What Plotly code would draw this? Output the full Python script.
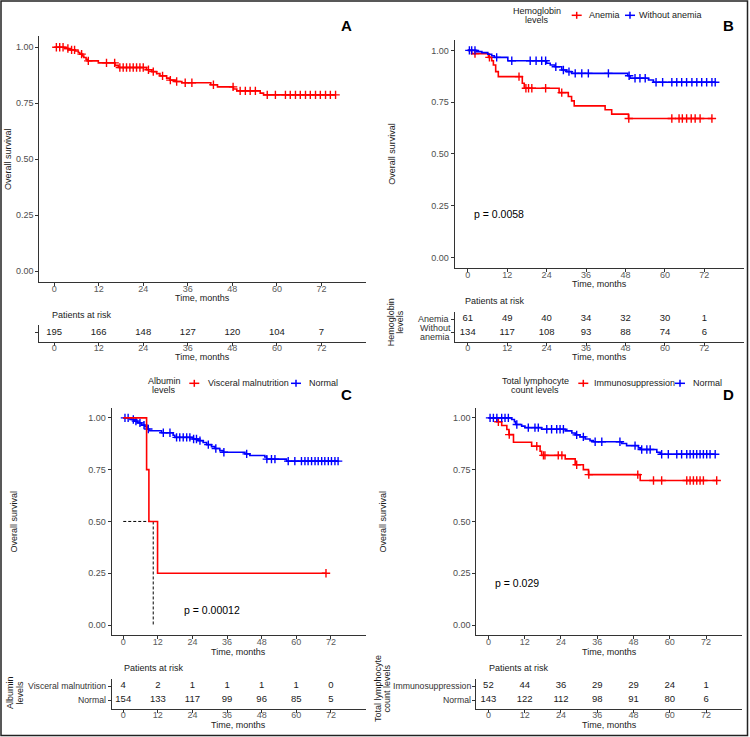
import plotly.graph_objects as go

W, H = 750, 737
FONT = "Liberation Sans, Arial, sans-serif"

# ---------------- data ----------------
time_ticks = [0, 12, 24, 36, 48, 60, 72]
surv_ticks = [0, 0.25, 0.5, 0.75, 1.0]
surv_tick_labels = ["0.00", "0.25", "0.50", "0.75", "1.00"]

# Panel A – all patients
A_event_t = [2.9, 3.8, 5.6, 6.5, 6.9, 7.7, 8.0, 8.6, 8.9, 11.9, 16.4, 17.3, 24.9, 26.3, 27.6, 28.5,
             30.3, 31.2, 32.6, 34.4, 42.2, 44.0, 48.3, 49.2, 55.5, 56.4]
A_event_s = [0.994, 0.988, 0.983, 0.976, 0.969, 0.961, 0.954, 0.946, 0.939, 0.930, 0.919, 0.909,
             0.899, 0.891, 0.882, 0.872, 0.862, 0.853, 0.847, 0.841, 0.832, 0.823, 0.813, 0.805,
             0.795, 0.787]
A_censor_t = [0.6, 1.5, 2.4, 3.7, 4.7, 5.5, 7.4, 9.2, 14.1, 16.3, 17.7, 18.6, 19.5, 20.4, 21.3, 22.2,
              23.1, 24.0, 25.4, 26.7, 29.2, 31.3, 33.0, 35.3, 37.1, 42.9, 48.2, 50.1, 51.5, 52.8,
              54.2, 57.4, 59.6, 62.3, 63.6, 65.0, 66.3, 67.7, 69.0, 70.4, 71.7, 73.1, 74.4, 75.8]
A_risk = [195, 166, 148, 127, 120, 104, 7]

# Panel B – hemoglobin
B_title = ["Hemoglobin", "levels"]
B_groups = ["Anemia", "Without anemia"]
B_anemia_event_t = [1.2, 6.3, 7.3, 7.8, 8.5, 9.3, 16.6, 17.2, 27.8, 30.6, 31.6, 32.4, 41.8, 43.8, 48.9]
B_anemia_event_s = [0.984, 0.966, 0.950, 0.929, 0.897, 0.873, 0.841, 0.817, 0.796, 0.777, 0.756,
                    0.732, 0.713, 0.692, 0.671]
B_anemia_censor_t = [2.2, 6.6, 15.6, 17.7, 18.5, 19.5, 23.7, 28.6, 49.0, 62.1, 64.3, 65.3, 66.6,
                     68.0, 69.2, 70.7, 74.3]
B_noanemia_event_t = [2.7, 4.3, 6.1, 7.3, 8.1, 12.2, 24.0, 25.1, 26.6, 28.6, 30.1, 31.6, 48.7, 49.4,
                      55.0, 56.5]
B_noanemia_event_s = [0.994, 0.989, 0.981, 0.974, 0.966, 0.950, 0.938, 0.929, 0.921, 0.905, 0.897,
                      0.889, 0.877, 0.865, 0.857, 0.846]
B_noanemia_censor_t = [0.5, 1.2, 2.2, 8.8, 13.4, 19.0, 20.8, 22.5, 23.7, 26.8, 29.1, 30.8, 32.7,
                       34.7, 36.7, 42.8, 49.1, 50.9, 52.4, 54.0, 57.3, 59.3, 62.1, 63.6, 65.1, 66.6,
                       68.2, 69.7, 71.2, 72.7, 74.3, 75.3]
B_risk_anemia = [61, 49, 40, 34, 32, 30, 1]
B_risk_noanemia = [134, 117, 108, 93, 88, 74, 6]

# Panel C – albumin
C_title = ["Albumin", "levels"]
C_groups = ["Visceral malnutrition", "Normal"]
C_malnut_event_t = [8.1, 8.9, 11.9]
C_malnut_event_s = [0.75, 0.50, 0.25]
C_malnut_censor_t = [70.3]
C_normal_event_t = [2.9, 3.8, 5.0, 6.4, 7.5, 8.3, 8.9, 13.3, 17.3, 17.9, 24.3, 26.0, 27.7, 28.9,
                    30.6, 31.8, 33.5, 34.7, 42.2, 43.9, 49.1, 49.7, 56.6]
C_normal_event_s = [0.992, 0.984, 0.976, 0.965, 0.957, 0.946, 0.938, 0.928, 0.916, 0.906, 0.898,
                    0.890, 0.881, 0.871, 0.861, 0.852, 0.842, 0.834, 0.826, 0.818, 0.811, 0.801,
                    0.791]
C_normal_censor_t = [0.6, 1.7, 3.5, 4.4, 5.8, 7.2, 8.7, 13.9, 16.2, 18.5, 19.6, 20.8, 22.0, 23.1,
                     24.4, 25.4, 26.6, 29.5, 32.1, 34.9, 42.8, 49.8, 51.4, 52.6, 57.2, 59.5, 61.8,
                     63.0, 64.1, 65.3, 66.5, 67.6, 68.8, 69.9, 71.1, 72.2, 73.4, 74.5]
C_risk_malnut = [4, 2, 1, 1, 1, 1, 0]
C_risk_normal = [154, 133, 117, 99, 96, 85, 5]

# Panel D – total lymphocyte count
D_title = ["Total lymphocyte", "count levels"]
D_groups = ["Immunosuppression", "Normal"]
D_immuno_event_t = [2.8, 4.4, 6.1, 6.8, 8.3, 14.3, 17.1, 17.6, 25.4, 28.7, 31.4, 33.1, 50.2]
D_immuno_event_s = [0.981, 0.963, 0.944, 0.919, 0.882, 0.863, 0.839, 0.819, 0.802, 0.774, 0.750,
                    0.726, 0.698]
D_immuno_censor_t = [3.3, 6.9, 16.0, 18.2, 18.7, 23.1, 24.3, 29.2, 33.2, 49.4, 54.6, 57.3, 65.6,
                     66.7, 67.8, 68.9, 70.0, 71.1, 75.5]
D_normal_event_t = [7.7, 8.6, 9.0, 11.0, 12.1, 17.6, 25.4, 27.6, 28.7, 30.3, 32.0, 33.6, 34.7, 44.1,
                    45.7, 49.6, 50.2, 55.7, 56.8]
D_normal_event_s = [0.992, 0.982, 0.968, 0.960, 0.953, 0.945, 0.937, 0.927, 0.918, 0.908, 0.898,
                    0.890, 0.885, 0.876, 0.866, 0.855, 0.847, 0.834, 0.824]
D_normal_censor_t = [0.55, 1.65, 2.8, 4.4, 5.5, 6.6, 9.4, 13.2, 15.4, 16.5, 19.3, 20.9, 22.6, 23.7,
                     24.8, 29.2, 31.4, 35.3, 37.5, 43.5, 48.5, 50.7, 52.4, 53.5, 57.3, 59.5, 62.3,
                     63.9, 65.6, 66.7, 67.8, 68.9, 70.0, 71.1, 72.2, 73.3, 75.0]
D_risk_immuno = [52, 44, 36, 29, 29, 24, 1]
D_risk_normal = [143, 122, 112, 98, 91, 80, 6]

RED = "#FF0000"
BLUE = "#0000FF"
AXC = "#333333"


# ---------------- helpers ----------------
def px_x(x):
    return x / W


def px_y(y):
    return 1 - y / H


def dom_x(l, r):
    return [l / W, r / W]


def dom_y(t, b):
    return [1 - b / H, 1 - t / H]


def surv_at(t, ev_t, ev_s):
    s = 1.0
    for et, es in zip(ev_t, ev_s):
        if et <= t:
            s = es
    return s


def median_time(ev_t, ev_s):
    for i, s in enumerate(ev_s):
        if abs(s - 0.5) < 1e-9:
            nxt = ev_t[i + 1] if i + 1 < len(ev_t) else ev_t[i]
            return (ev_t[i] + nxt) / 2
        if s < 0.5:
            return ev_t[i]
    return None


fig = go.Figure()
annotations = []
shapes = []


def axname(i, kind):
    return f"{kind}axis" if i == 1 else f"{kind}axis{i}"


def axref(i, kind):
    return kind if i == 1 else f"{kind}{i}"


def add_curve(i, ev_t, ev_s, cens_t, color):
    last = max(cens_t + ev_t)
    xs = [0] + list(ev_t) + [last]
    ys = [1.0] + list(ev_s) + [ev_s[-1] if ev_s else 1.0]
    fig.add_trace(go.Scatter(x=xs, y=ys, mode="lines", line=dict(color=color, width=1.6, shape="hv"),
                             xaxis=axref(i, "x"), yaxis=axref(i, "y"), hoverinfo="skip"))
    fig.add_trace(go.Scatter(x=cens_t, y=[surv_at(t, ev_t, ev_s) for t in cens_t], mode="markers",
                             marker=dict(symbol="cross-thin", size=6, line=dict(color=color, width=1.4)),
                             xaxis=axref(i, "x"), yaxis=axref(i, "y"), hoverinfo="skip"))


def xaxis_common(i, xl, xr, standoff):
    return dict(
        domain=dom_x(xl, xr), range=[-4, 84], tickvals=time_ticks, ticks="outside", ticklen=3,
        tickcolor=AXC, showline=True, linecolor=AXC, linewidth=1, showgrid=False, zeroline=False,
        tickfont=dict(family=FONT, size=9, color="#5a5a5a"), ticklabelstandoff=standoff,
        anchor=axref(i, "y"), fixedrange=True)


def setup_main(i, xl, xr, yt, yb):
    fig.layout[axname(i, "x")] = xaxis_common(i, xl, xr, -5)
    fig.layout[axname(i, "y")] = dict(
        domain=dom_y(yt, yb), range=[-0.05, 1.05], tickvals=surv_ticks, ticktext=surv_tick_labels,
        ticks="outside", ticklen=3, tickcolor=AXC, showline=True, linecolor=AXC, linewidth=1,
        showgrid=False, zeroline=False, tickfont=dict(family=FONT, size=9, color="#4d4d4d"),
        anchor=axref(i, "x"), fixedrange=True)


def setup_risk(i, xl, xr, yt, yb, yrange, rows, counts_list):
    fig.layout[axname(i, "x")] = xaxis_common(i, xl, xr, -6)
    fig.layout[axname(i, "y")] = dict(
        domain=dom_y(yt, yb), range=yrange, tickvals=rows, ticktext=[""] * len(rows),
        ticks="outside", ticklen=3, tickcolor=AXC, showline=True, linecolor=AXC, linewidth=1,
        showgrid=False, zeroline=False, anchor=axref(i, "x"), fixedrange=True)
    for row, counts in zip(rows, counts_list):
        fig.add_trace(go.Scatter(x=time_ticks, y=[row] * len(time_ticks), mode="text",
                                 text=[str(c) for c in counts],
                                 textfont=dict(family=FONT, size=9.5, color="#1a1a1a"),
                                 xaxis=axref(i, "x"), yaxis=axref(i, "y"), hoverinfo="skip",
                                 cliponaxis=False))


def text(t, x, y, size=9, xanchor="center", color="#1a1a1a", angle=0):
    annotations.append(dict(text=t, x=px_x(x), y=px_y(y), xref="paper", yref="paper",
                            xanchor=xanchor, yanchor="middle", showarrow=False, textangle=angle,
                            font=dict(family=FONT, size=size, color=color)))


def key(cx, cy, color):
    shapes.append(dict(type="line", xref="paper", yref="paper", x0=px_x(cx - 5), x1=px_x(cx + 5),
                       y0=px_y(cy), y1=px_y(cy), line=dict(color=color, width=1.5)))
    shapes.append(dict(type="line", xref="paper", yref="paper", x0=px_x(cx), x1=px_x(cx),
                       y0=px_y(cy - 3.5), y1=px_y(cy + 3.5), line=dict(color=color, width=1.5)))


# ---------------- Panel A ----------------
setup_main(1, 39.3, 366, 36, 282.3)
add_curve(1, A_event_t, A_event_s, A_censor_t, RED)
setup_risk(2, 39.3, 366, 325, 341.7, [1.6, 0.5], [1], [A_risk])
text("<b>A</b>", 346.7, 26, size=15, color="#000000")
text("Overall survival", 8, 159, angle=-90)
text("Time, months", 202.6, 298)
text("Patients at risk", 50, 315, xanchor="left")
text("Time, months", 202.6, 357.5)

# ---------------- Panel B ----------------
setup_main(3, 454.6, 743.8, 40, 267.7)
add_curve(3, B_anemia_event_t, B_anemia_event_s, B_anemia_censor_t, RED)
add_curve(3, B_noanemia_event_t, B_noanemia_event_s, B_noanemia_censor_t, BLUE)
setup_risk(4, 454.6, 743.8, 311.7, 342.3, [2.70, 0.467], [1, 2], [B_risk_anemia, B_risk_noanemia])
text(B_title[0], 536.7, 11.3)
text(B_title[1], 536.7, 20.3)
key(576.7, 15.3, RED)
text(B_groups[0], 586.7, 15.3, xanchor="left")
key(630, 15.3, BLUE)
text(B_groups[1], 636.7, 15.3, xanchor="left")
text("<b>B</b>", 728.3, 26, size=15, color="#000000")
text("Overall survival", 391.7, 154, angle=-90)
text("p = 0.0058", 471.7, 214.3, size=10.5, xanchor="left", color="#000000")
text("Time, months", 599.2, 284)
text("Patients at risk", 463.3, 300.7, xanchor="left")
text(B_groups[0], 450.5, 319, xanchor="right", color="#333333")
text("Without", 435.2, 327.7, color="#333333")
text("anemia", 435.2, 336.7, color="#333333")
text(B_title[0], 391.2, 322, angle=-90)
text(B_title[1], 399.8, 322, angle=-90)
text("Time, months", 599.2, 357.5)

# ---------------- Panel C ----------------
setup_main(5, 111.7, 365.5, 407.5, 635.4)
med = median_time(C_malnut_event_t, C_malnut_event_s)
fig.add_trace(go.Scatter(x=[0, med, med], y=[0.5, 0.5, 0], mode="lines",
                         line=dict(color="#000000", width=1, dash="3px,2px"),
                         xaxis="x5", yaxis="y5", hoverinfo="skip"))
add_curve(5, C_normal_event_t, C_normal_event_s, C_normal_censor_t, BLUE)
add_curve(5, C_malnut_event_t, C_malnut_event_s, C_malnut_censor_t, RED)
setup_risk(6, 111.7, 365.5, 679.3, 709, [2.64, 0.52], [1, 2], [C_risk_malnut, C_risk_normal])
text(C_title[0], 164.3, 380.7)
text(C_title[1], 164.3, 389.7)
key(194.3, 383.3, RED)
text(C_groups[0], 206, 383.3, xanchor="left")
key(296, 383.3, BLUE)
text(C_groups[1], 306.7, 383.3, xanchor="left")
text("<b>C</b>", 346.7, 394.3, size=15, color="#000000")
text("Overall survival", 13, 521.5, angle=-90)
text("p = 0.00012", 181.7, 610, size=10.5, xanchor="left", color="#000000")
text("Time, months", 238.6, 651.7)
text("Patients at risk", 121.7, 667.7, xanchor="left")
text(C_groups[0], 107.5, 686, xanchor="right", size=8.7, color="#333333")
text(C_groups[1], 107.5, 700, xanchor="right", size=8.7, color="#333333")
text(C_title[0], 10, 693, angle=-90)
text(C_title[1], 19.5, 693, angle=-90)
text("Time, months", 238.6, 725)

# ---------------- Panel D ----------------
setup_main(7, 476.3, 742.4, 407.5, 635.4)
add_curve(7, D_immuno_event_t, D_immuno_event_s, D_immuno_censor_t, RED)
add_curve(7, D_normal_event_t, D_normal_event_s, D_normal_censor_t, BLUE)
setup_risk(8, 476.3, 742.4, 679.3, 709, [2.64, 0.52], [1, 2], [D_risk_immuno, D_risk_normal])
text(D_title[0], 535, 380.7)
text(D_title[1], 535, 389.7)
key(583.3, 383.3, RED)
text(D_groups[0], 592.3, 383.3, xanchor="left")
key(680, 383.3, BLUE)
text(D_groups[1], 691, 383.3, xanchor="left")
text("<b>D</b>", 728.3, 394.3, size=15, color="#000000")
text("Overall survival", 382, 521.5, angle=-90)
text("p = 0.029", 493.3, 582.7, size=10.5, xanchor="left", color="#000000")
text("Time, months", 609.4, 651.7)
text("Patients at risk", 486.7, 667.7, xanchor="left")
text(D_groups[0], 473.3, 686, xanchor="right", size=8.7, color="#333333")
text(D_groups[1], 473.3, 700, xanchor="right", size=8.7, color="#333333")
text(D_title[0], 378, 689, angle=-90)
text(D_title[1], 386.5, 689, angle=-90)
text("Time, months", 609.4, 725)

# outer frame
shapes.append(dict(type="rect", xref="paper", yref="paper", x0=px_x(1), x1=px_x(747.5),
                   y0=px_y(735.5), y1=px_y(1), line=dict(color="#222222", width=1.5)))

fig.update_layout(width=W, height=H, margin=dict(l=0, r=0, t=0, b=0, pad=0),
                  paper_bgcolor="white", plot_bgcolor="white", showlegend=False,
                  annotations=annotations, shapes=shapes, hovermode=False,
                  font=dict(family=FONT, size=9))

fig.write_html("out.html", config={"displayModeBar": False})
